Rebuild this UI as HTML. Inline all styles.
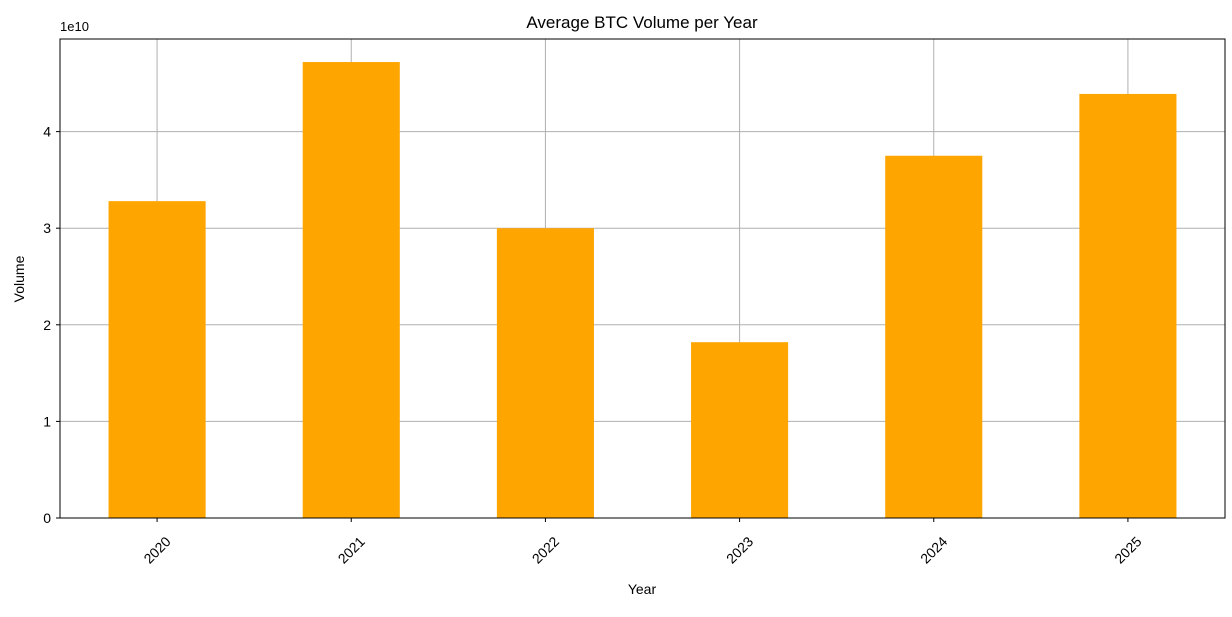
<!DOCTYPE html>
<html><head><meta charset="utf-8">
<style>
html,body{margin:0;padding:0;background:#fff;}
svg text{font-family:"Liberation Sans","DejaVu Sans",sans-serif;fill:#000;}
</style></head>
<body>
<svg id="chart" width="1232" height="612" xmlns="http://www.w3.org/2000/svg">
<text x="642" y="28" font-size="17" text-anchor="middle">Average BTC Volume per Year</text>
<g id="grid"></g>
<g id="bars"></g>
<g id="axes"></g>
<text x="60" y="31" font-size="13">1e10</text>
<text x="642" y="594" font-size="14" text-anchor="middle">Year</text>
<text transform="translate(24,279) rotate(-90)" font-size="14" text-anchor="middle">Volume</text>
</svg>
<script>
const categories = ["2020","2021","2022","2023","2024","2025"];
const volumes = [3.28e10, 4.72e10, 3.00e10, 1.82e10, 3.75e10, 4.39e10];
const yTicks = [0, 1e10, 2e10, 3e10, 4e10];
const yTickLabels = ["0","1","2","3","4"];

const L=60,R=1225,T=39,B=518;
const yMax=(B-T)/96.6*1e10;
const step=(R-L)/categories.length;
const xC=i=>L+step*(i+0.5);
const y=v=>B-(v/yMax)*(B-T);
const NS="http://www.w3.org/2000/svg";
function mk(tag,attrs,parent){const e=document.createElementNS(NS,tag);for(const k in attrs)e.setAttribute(k,attrs[k]);parent.appendChild(e);return e;}
const grid=document.getElementById('grid'),bars=document.getElementById('bars'),axes=document.getElementById('axes');

categories.forEach((c,i)=>{
  const gl=mk('line',{x1:xC(i),x2:xC(i),y1:T,y2:B,stroke:'#b0b0b0','stroke-width':1},grid);
  
  
});
yTicks.forEach((t,i)=>{
  const gl=mk('line',{x1:L,x2:R,y1:y(t),y2:y(t),stroke:'#b0b0b0','stroke-width':1},grid);
  
  
  const tk=mk('line',{x1:L-4,x2:L,y1:y(t),y2:y(t),stroke:'#000'},axes);
  
  
  const tl=mk('text',{x:L-9,y:y(t)+5,'font-size':14,'text-anchor':'end'},axes);
  tl.textContent=yTickLabels[i];
  
  
});
categories.forEach((c,i)=>{
  const w=step*0.5;
  const r=mk('rect',{x:xC(i)-w/2,y:y(volumes[i]),width:w,height:B-y(volumes[i]),fill:'#ffa500'},bars);
  
  
  const tk=mk('line',{x1:xC(i),x2:xC(i),y1:B,y2:B+4,stroke:'#000'},axes);
  
  
  const cx=xC(i), cy=B+32;
  const tl=mk('text',{x:cx,y:cy+5,'font-size':14,'text-anchor':'middle',transform:`rotate(-45 ${cx} ${cy})`},axes);
  tl.textContent=c;
  
  
});
const fr=mk('rect',{x:L,y:T,width:R-L,height:B-T,fill:'none',stroke:'#000','stroke-width':1},axes);


</script>
</body></html>
